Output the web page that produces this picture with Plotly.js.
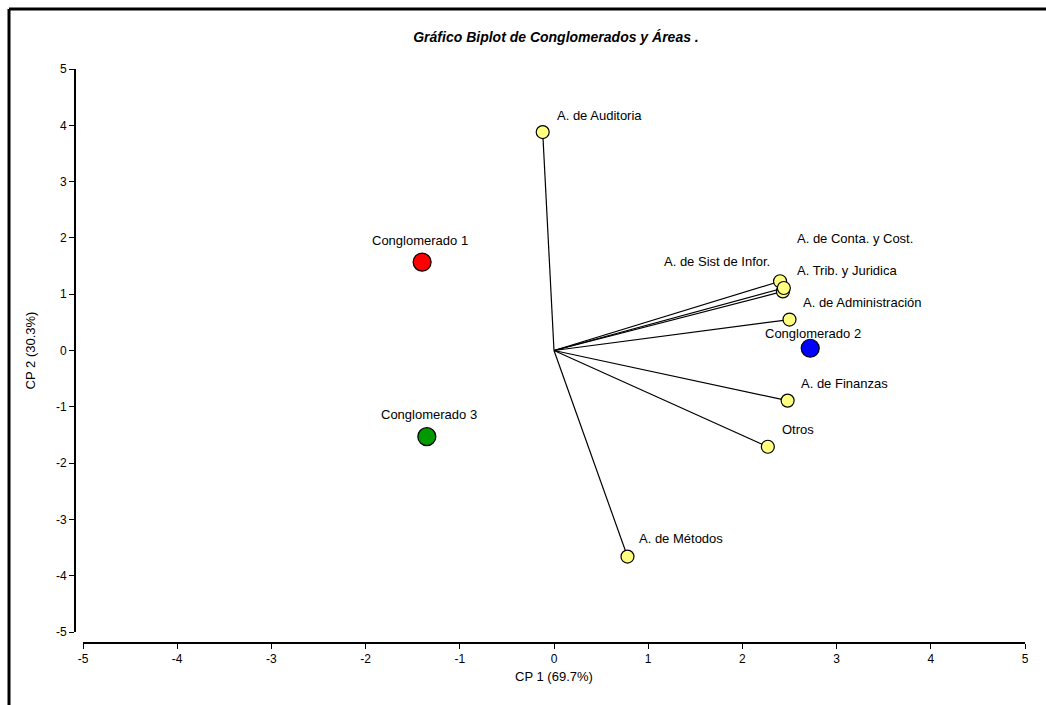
<!DOCTYPE html>
<html>
<head>
<meta charset="utf-8">
<script src="https://cdn.plot.ly/plotly-3.0.1.min.js"></script>
<style>
html,body{margin:0;padding:0;background:#fff;}
#chart{width:1046px;height:705px;}
</style>
</head>
<body>
<div id="chart"></div>
<script>
// ---- data ----
const areaNames = ["A. de Auditoria", "A. de Sist de Infor.", "A. de Conta. y Cost.", "A. Trib. y Juridica",
                   "A. de Administración", "A. de Finanzas", "Otros", "A. de Métodos"];
const areaX = [-0.12, 2.40, 2.43, 2.44, 2.50, 2.48, 2.27, 0.78];
const areaY = [3.88, 1.23, 1.05, 1.11, 0.55, -0.89, -1.71, -3.66];

const clusterNames = ["Conglomerado 1", "Conglomerado 2", "Conglomerado 3"];
const clusterX = [-1.40, 2.72, -1.35];
const clusterY = [1.57, 0.04, -1.53];
const clusterColors = ["#FF0000", "#0000FF", "#009900"];

const tickVals = [-5, -4, -3, -2, -1, 0, 1, 2, 3, 4, 5];
const tickText = ["-5", "-4", "-3", "-2", "-1", "0", "1", "2", "3", "4", "5"];

// ---- label placement (pixels) ----
const areaLabelShift = [[12, 17, "left"], [-8, 20, "right"], [12, 53, "left"], [11, 18, "left"],
                        [11, 17, "left"], [11, 17, "left"], [12, 17, "left"], [10, 18, "left"]];
const clusterLabelShift = [[-2, 22], [3, 15], [2, 22]];

// vectors from origin
const vx = [], vy = [];
areaX.forEach((x, i) => { vx.push(0, x, null); vy.push(0, areaY[i], null); });

const FONT = "Liberation Sans, Arial, sans-serif";
const LBL = 13;

const traces = [
  {x: vx, y: vy, mode: "lines", line: {color: "#000", width: 1.2}, hoverinfo: "skip", showlegend: false, cliponaxis: false},
  {x: areaX, y: areaY, text: areaNames, mode: "markers", showlegend: false, cliponaxis: false,
   marker: {size: 13, color: "#FFFF80", line: {color: "#000", width: 1.2}}},
  {x: clusterX, y: clusterY, text: clusterNames, mode: "markers", showlegend: false, cliponaxis: false,
   marker: {size: 18, color: clusterColors, line: {color: "#000", width: 1.2}}}
];

const annotations = [];
areaNames.forEach((n, i) => annotations.push({
  x: areaX[i], y: areaY[i], xref: "x", yref: "y", text: n, showarrow: false,
  xanchor: areaLabelShift[i][2], yanchor: "middle", xshift: areaLabelShift[i][0], yshift: areaLabelShift[i][1],
  font: {family: FONT, size: LBL, color: "#000"}
}));
clusterNames.forEach((n, i) => annotations.push({
  x: clusterX[i], y: clusterY[i], xref: "x", yref: "y", text: n, showarrow: false,
  xanchor: "center", yanchor: "middle", xshift: clusterLabelShift[i][0], yshift: clusterLabelShift[i][1],
  font: {family: FONT, size: LBL, color: "#000"}
}));

// frame (top + left lines), paper coords relative to plot area
const L = 74, R = 21, T = 69, B = 63, W = 1046, H = 705;
const pw = W - L - R, ph = H - T - B;
const px = p => (p - L) / pw;
const py = p => (H - B - p) / ph;

const layout = {
  width: W, height: H,
  paper_bgcolor: "#fff", plot_bgcolor: "#fff",
  margin: {l: L, r: R, t: T, b: B, pad: 0},
  font: {family: FONT, size: 12, color: "#000"},
  title: {text: "Gráfico Biplot de Conglomerados y Áreas .", xref: "container", yref: "container",
          x: 556 / W, y: 1 - 37 / H, xanchor: "center", yanchor: "middle",
          font: {family: FONT, size: 14, weight: "bold", style: "italic", color: "#000"}},
  xaxis: {range: [-5, 5], domain: [(83 - L) / pw, 1], anchor: "free", position: 0,
          tickvals: tickVals, ticktext: tickText, ticks: "outside", ticklen: 5, tickwidth: 1, tickcolor: "#000",
          showline: true, linecolor: "#000", linewidth: 1.5, showgrid: false, zeroline: false,
          tickfont: {family: FONT, size: 12, color: "#000"},
          title: {text: "CP 1 (69.7%)", standoff: 7, font: {family: FONT, size: 13, color: "#000"}}},
  yaxis: {range: [-5, 5], domain: [(642 - 632) / ph, 1], anchor: "free", position: 0,
          tickvals: tickVals, ticktext: tickText, ticks: "outside", ticklen: 5, tickwidth: 1, tickcolor: "#000",
          showline: true, linecolor: "#000", linewidth: 1.5, showgrid: false, zeroline: false,
          tickfont: {family: FONT, size: 12, color: "#000"},
          title: {text: "CP 2 (30.3%)", standoff: 16, font: {family: FONT, size: 13, color: "#000"}}},
  annotations: annotations,
  shapes: [
    {type: "line", xref: "paper", yref: "paper", x0: px(9), x1: px(W + 2), y0: py(9), y1: py(9), line: {color: "#000", width: 3}},
    {type: "line", xref: "paper", yref: "paper", x0: px(9), x1: px(9), y0: py(9), y1: py(H + 2), line: {color: "#000", width: 3}}
  ],
  showlegend: false,
  hovermode: "closest"
};

Plotly.newPlot("chart", traces, layout, {displayModeBar: false, staticPlot: true});
</script>
</body>
</html>
